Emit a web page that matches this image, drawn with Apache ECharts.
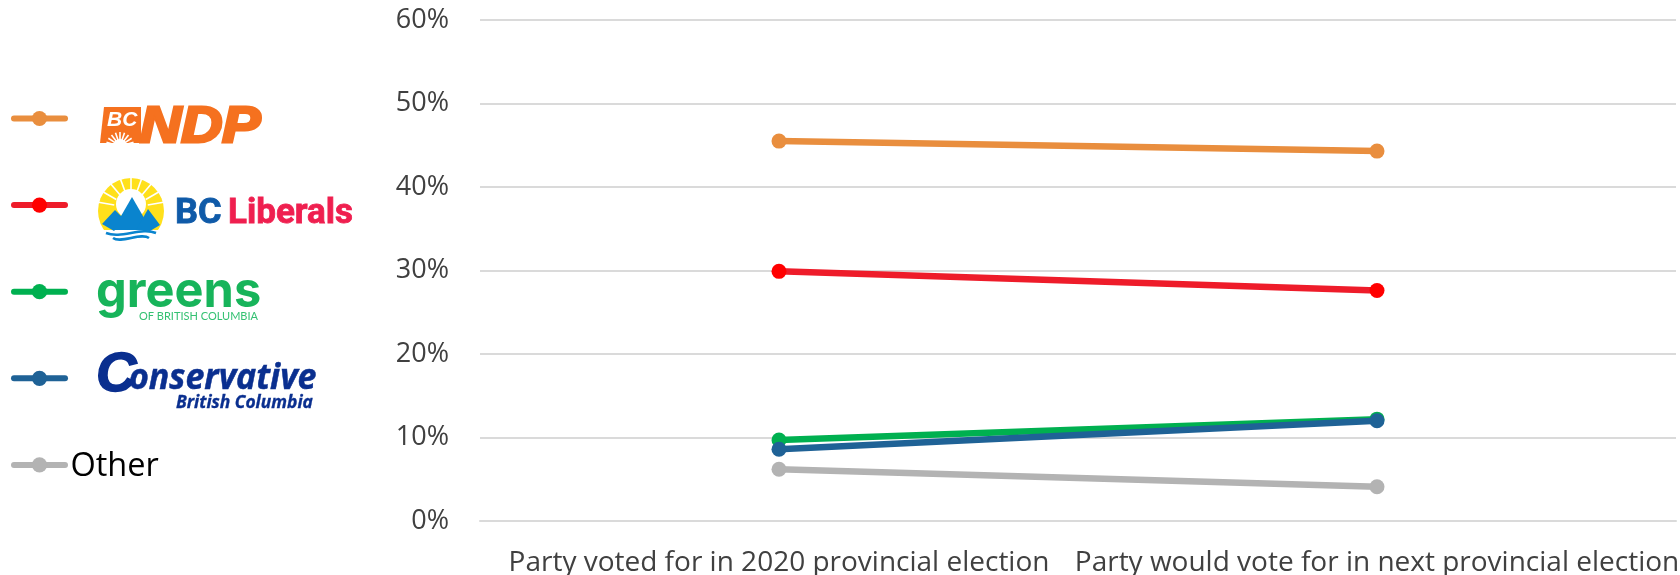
<!DOCTYPE html>
<html><head><meta charset="utf-8">
<script src="https://cdn.jsdelivr.net/npm/echarts@6/dist/echarts.min.js"></script>
<style>html,body{margin:0;padding:0;background:#fff}#c{width:1680px;height:575px}</style></head>
<body><div id="c"></div>
<script>
const categories = ['Party voted for in 2020 provincial election','Party would vote for in next provincial election'];
const tickLabels = ['0%','10%','20%','30%','40%','50%','60%'];
const ndp = [45.5, 44.3];
const liberals = [29.9, 27.6];
const greens = [9.7, 12.2];
const conservative = [8.6, 12.0];
const other = [6.2, 4.1];
const seriesNames = ['BC NDP','BC Liberals','Greens','Conservative','Other'];
const seriesValues = [ndp, liberals, greens, conservative, other];
const lineColors = ['#E98E3E','#EE1C2A','#00B050','#1F6296','#B3B3B3'];
const markerColors = ['#E98E3E','#FF0000','#00B050','#1F6296','#B3B3B3'];
const FONT = '"Open Sans"';

function txt(x,y,text,font,fill,opt){
  opt = opt||{};
  return {type:'text',x:x,y:y,scaleX:opt.sx||1,scaleY:opt.sy||1,z:10,silent:true,
    style:{text:text,font:font,fill:fill,stroke:opt.stroke||null,lineWidth:opt.lw||0,textAlign:'left',textVerticalAlign:'middle'}};
}
function poly(points,fill){return {type:'polygon',z:10,silent:true,shape:{points:points},style:{fill:fill}};}
function rays(cx,cy,r0,r1,from,to,n,color,w){
  const out=[];
  for(let i=0;i<n;i++){
    const a=(from+(to-from)*i/(n-1))*Math.PI/180;
    out.push({type:'line',z:10,silent:true,shape:{x1:cx+r0*Math.cos(a),y1:cy-r0*Math.sin(a),x2:cx+r1*Math.cos(a),y2:cy-r1*Math.sin(a)},style:{stroke:color,lineWidth:w}});
  }
  return out;
}
function wave(y,x0,x1,c,w){
  const m=(x0+x1)/2;
  return {type:'bezierCurve',z:10,silent:true,shape:{x1:x0,y1:y,x2:x1,y2:y,cpx1:m-10,cpy1:y+6,cpx2:m+10,cpy2:y-6},style:{stroke:c,lineWidth:w,fill:null}};
}
const logos = [
  // NDP
  poly([[104,107],[141,107],[141,143],[100,143]],'#F5711F'),
  txt(107,120,'BC','italic bold 21px "Liberation Sans"','#fff'),
  {type:'circle',z:10,silent:true,shape:{cx:120,cy:146,r:7},style:{fill:'#fff'}},
  ...rays(120,146,6,14,15,165,9,'#fff',1.6),
  {type:'rect',z:10,silent:true,shape:{x:98,y:143.5,width:46,height:12},style:{fill:'#fff'}},
  txt(140,128,'NDP','italic bold 50px "Liberation Sans"','#F5711F',{stroke:'#F5711F',lw:3,sx:1.14}),
  // BC Liberals sun
  {type:'circle',z:10,silent:true,shape:{cx:131,cy:211,r:33},style:{fill:'#FFE01B'}},
  ...rays(131,208,17,33,10,170,9,'#fff',1.6),
  {type:'circle',z:10,silent:true,shape:{cx:131,cy:204,r:15},style:{fill:'#fff'}},
  poly([[96,230],[166,230],[166,246],[96,246]],'#fff'),
  poly([[132,197],[151,230],[113,230]],'#0A84CE'),
  poly([[115,210],[125,220],[114,231],[102,224]],'#0A84CE'),
  poly([[148,209],[160,225],[150,231],[136,230]],'#0A84CE'),
  wave(233,106,156,'#0A84CE',2.5),
  wave(238,113,149,'#0A84CE',2.5),
  txt(175,214,'BC','bold 35px Roboto','#0F5AA8',{stroke:'#0F5AA8',lw:0.8,sx:1.03}),
  txt(228,214,'Liberals','bold 35px Roboto','#EF1F4F',{stroke:'#EF1F4F',lw:0.8}),
  // greens
  txt(96,292,'greens','bold 50px Inter','#17B45A',{sx:0.975}),
  txt(139,316,'OF BRITISH COLUMBIA','11px Lato','#34C172',{sx:1.0}),
  // Conservative
  txt(96,376,'C','italic bold 56px "Liberation Sans"','#0A2F8F',{stroke:'#0A2F8F',lw:1.5}),
  txt(129,379,'onservative','italic bold 35px "Open Sans"','#0A2F8F',{stroke:'#0A2F8F',lw:0.5,sx:0.97}),
  txt(176,403,'British Columbia','italic bold 17.4px "Open Sans"','#0A2F8F',{stroke:'#0A2F8F',lw:0.3}),
  // Other
  txt(70.5,467,'Other','32.5px "Open Sans"','#000'),
];

const chart = echarts.init(document.getElementById('c'),null,{renderer:'canvas'});
chart.setOption({
  animation:false,
  backgroundColor:'#fff',
  grid:{left:480,right:4,top:20,bottom:54,containLabel:false,outerBoundsMode:'none'},
  legend:{
    orient:'vertical',left:11,top:101.5,padding:0,itemWidth:51,itemHeight:19,itemGap:52.6,selectedMode:false,
    data:seriesNames,
    formatter:function(){return ' ';},
    lineStyle:{width:6,cap:'round'},
    textStyle:{fontFamily:FONT,fontSize:32,color:'#000',lineHeight:34}
  },
  xAxis:{type:'category',data:categories,boundaryGap:true,
    axisTick:{show:false},
    axisLine:{lineStyle:{color:'#DADADA',width:2}},
    axisLabel:{interval:0,hideOverlap:false,margin:28,fontFamily:FONT,fontSize:28,color:'#404040'}},
  yAxis:{type:'value',min:0,max:60,interval:10,
    axisLine:{show:false},axisTick:{show:false},
    splitLine:{lineStyle:{color:'#DADADA',width:2}},
    axisLabel:{margin:31,padding:[3,0,0,0],fontFamily:FONT,fontSize:27,color:'#404040',
      formatter:function(v){return tickLabels[v/10];}}},
  series:seriesNames.map(function(n,i){return {
    name:n,type:'line',data:seriesValues[i],symbol:'circle',symbolSize:15,
    lineStyle:{color:lineColors[i],width:6.5,cap:'round'},
    itemStyle:{color:markerColors[i]},
    z:2+i
  };}),
  graphic:logos
});
</script></body></html>
